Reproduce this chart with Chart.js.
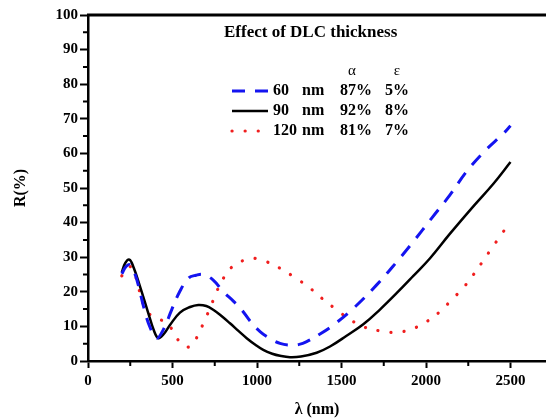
<!DOCTYPE html>
<html>
<head>
<meta charset="utf-8">
<script src="https://cdn.jsdelivr.net/npm/chart.js@4.4.1/dist/chart.umd.min.js"></script>
<style>
  body { margin: 0; background: #fff; }
  #wrap { width: 546px; height: 420px; }
</style>
</head>
<body>
<div id="wrap"><canvas id="reflChart" width="546" height="420"></canvas></div>
<script>
// legend table
const thickness = ['60', '90', '120'];
const alphaVals = ['87%', '92%', '81%'];
const epsVals = ['5%', '8%', '7%'];

// axis ticks
const xTicks = [0, 500, 1000, 1500, 2000, 2500];
const xMinor = [250, 750, 1250, 1750, 2250];
const yTicks = [0, 10, 20, 30, 40, 50, 60, 70, 80, 90, 100];
const yMinor = [5, 15, 25, 35, 45, 55, 65, 75, 85, 95];

// 60 nm (blue dashed)
const lam60 = [200, 225, 248, 275, 300, 330, 365, 406, 445, 495, 540, 594, 640, 682, 741, 801, 860, 909, 960, 1018, 1080, 1136, 1195, 1250, 1294, 1380, 1452, 1570, 1708, 1836, 1925, 2034, 2142, 2241, 2350, 2457, 2500];
const r60 = [25.2, 27.3, 27.8, 25.5, 21.5, 15.5, 10, 6.6, 9, 14.8, 19.8, 23.9, 24.8, 25, 23.4, 20, 17.3, 14.8, 11.5, 8.5, 6.4, 5.1, 4.6, 4.8, 5.6, 8, 10.4, 15.2, 22, 29.2, 34.5, 41.3, 48, 54.8, 60.8, 65.7, 68];

// 90 nm (black solid)
const lam90 = [200, 220, 245, 270, 308, 357, 390, 416, 445, 485, 544, 604, 653, 700, 741, 790, 840, 890, 939, 990, 1037, 1090, 1136, 1195, 1260, 1353, 1432, 1530, 1629, 1726, 1826, 1925, 2024, 2142, 2280, 2400, 2500];
const r90 = [25.6, 28.3, 29.3, 27, 21.5, 13.8, 8.8, 6.6, 7.6, 10.4, 14, 15.6, 16.2, 15.9, 14.8, 13, 10.9, 8.7, 6.6, 4.7, 3.2, 2.1, 1.5, 1.1, 1.3, 2.4, 4.2, 7.3, 10.6, 14.8, 19.6, 24.6, 29.7, 36.8, 44.7, 51.3, 57.5];

// 120 nm (red dotted)
const lam120 = [200, 225, 248, 270, 288, 308, 337, 365, 396, 435, 475, 500, 525, 560, 594, 625, 653, 692, 728, 761, 801, 860, 949, 1000, 1057, 1136, 1225, 1310, 1389, 1471, 1550, 1629, 1728, 1826, 1915, 2004, 2083, 2152, 2221, 2280, 2333, 2389, 2445, 2500];
const r120 = [24.6, 26.5, 27.3, 26, 23.4, 19.6, 15.2, 13.5, 12.6, 11.8, 10.7, 8.8, 6.6, 4.8, 4, 5.2, 7.8, 11.9, 16, 20, 23.9, 27.5, 29.5, 29.6, 28.7, 26.8, 24.1, 21.2, 17.9, 14.8, 12, 9.9, 8.7, 8.3, 9.2, 11.4, 14.3, 17.7, 21.2, 24.9, 28.6, 32.6, 36.5, 40.3];

const serif = "'Liberation Serif', 'Times New Roman', serif";

function toPoints(xs, ys) {
    return xs.map((x, i) => ({ x: x, y: ys[i] }));
}

// frame top line, minor ticks and the legend table
const decorPlugin = {
    id: 'decor',
    afterDraw(chart) {
        const { ctx, chartArea: a, scales: { x, y } } = chart;
        ctx.save();
        ctx.strokeStyle = '#000';
        ctx.lineWidth = 3;
        ctx.beginPath();
        ctx.moveTo(a.left - 1, a.top);
        ctx.lineTo(a.right, a.top);
        ctx.stroke();

        ctx.lineWidth = 2;
        ctx.beginPath();
        yMinor.forEach(v => {
            const py = y.getPixelForValue(v);
            ctx.moveTo(a.left - 5, py);
            ctx.lineTo(a.left, py);
        });
        xMinor.forEach(v => {
            const px = x.getPixelForValue(v);
            ctx.moveTo(px, a.bottom);
            ctx.lineTo(px, a.bottom + 5);
        });
        ctx.stroke();

        // legend
        ctx.fillStyle = '#000';
        ctx.textBaseline = 'middle';
        ctx.textAlign = 'left';
        ctx.font = 'bold 17px ' + serif;
        ctx.fillText('Effect of DLC thickness', 224, 33);

        ctx.font = '15px ' + serif;
        ctx.textAlign = 'center';
        ctx.fillText('α', 352, 71);
        ctx.fillText('ε', 397, 71);

        const rowY = [91, 111, 131];
        chart.data.datasets.forEach((ds, i) => {
            const yy = rowY[i];
            ctx.save();
            ctx.strokeStyle = ds.borderColor;
            ctx.lineWidth = ds.borderWidth;
            ctx.lineCap = ds.borderCapStyle || 'butt';
            ctx.setLineDash(ds.borderDash || []);
            ctx.beginPath();
            ctx.moveTo(232, yy);
            ctx.lineTo(268, yy);
            ctx.stroke();
            ctx.restore();

            ctx.font = 'bold 16px ' + serif;
            ctx.textAlign = 'left';
            ctx.fillText(thickness[i], 273, yy);
            ctx.fillText('nm', 302, yy);
            ctx.fillText(alphaVals[i], 340, yy);
            ctx.fillText(epsVals[i], 385, yy);
        });
        ctx.restore();
    }
};

const ctx = document.getElementById('reflChart').getContext('2d');
const reflChart = new Chart(ctx, {
    type: 'line',
    data: {
        datasets: [{
            label: '60 nm',
            data: toPoints(lam60, r60),
            borderColor: '#1414f0',
            borderWidth: 3,
            borderDash: [13, 10],
            pointRadius: 0,
            tension: 0.4
        }, {
            label: '90 nm',
            data: toPoints(lam90, r90),
            borderColor: '#000000',
            borderWidth: 2.5,
            pointRadius: 0,
            tension: 0.4
        }, {
            label: '120 nm',
            data: toPoints(lam120, r120),
            borderColor: '#f01e1e',
            borderWidth: 3.2,
            borderDash: [0.1, 13],
            borderCapStyle: 'round',
            pointRadius: 0,
            tension: 0.4
        }]
    },
    options: {
        responsive: false,
        animation: false,
        devicePixelRatio: 1,
        layout: { padding: { top: 15, right: 0, left: 0, bottom: 0 } },
        plugins: {
            legend: { display: false },
            tooltip: { enabled: false }
        },
        scales: {
            x: {
                type: 'linear',
                min: 0,
                max: 2710,
                afterBuildTicks: s => { s.ticks = xTicks.map(v => ({ value: v })); },
                afterFit: s => { s.height = 59; },
                grid: { drawOnChartArea: false, drawTicks: true, tickLength: 7, tickWidth: 2, tickColor: '#000' },
                border: { display: true, color: '#000', width: 2.5 },
                ticks: {
                    color: '#000',
                    font: { family: serif, size: 15, weight: 'bold' },
                    padding: 4,
                    maxRotation: 0,
                    autoSkip: false,
                    callback: v => String(v)
                },
                title: {
                    display: true,
                    text: 'λ (nm)',
                    color: '#000',
                    font: { family: serif, size: 16, weight: 'bold' },
                    padding: { top: 0, bottom: 1 }
                }
            },
            y: {
                min: 0,
                max: 100,
                afterBuildTicks: s => { s.ticks = yTicks.map(v => ({ value: v })); },
                afterFit: s => { s.width = 88; },
                grid: { drawOnChartArea: false, drawTicks: true, tickLength: 8, tickWidth: 2, tickColor: '#000' },
                border: { display: true, color: '#000', width: 2.5 },
                ticks: {
                    color: '#000',
                    font: { family: serif, size: 15, weight: 'bold' },
                    padding: 2,
                    callback: v => String(v)
                },
                title: {
                    display: true,
                    text: 'R(%)',
                    color: '#000',
                    font: { family: serif, size: 16, weight: 'bold' },
                    padding: { top: 11, bottom: 0 }
                }
            }
        }
    },
    plugins: [decorPlugin]
});
</script>
</body>
</html>
